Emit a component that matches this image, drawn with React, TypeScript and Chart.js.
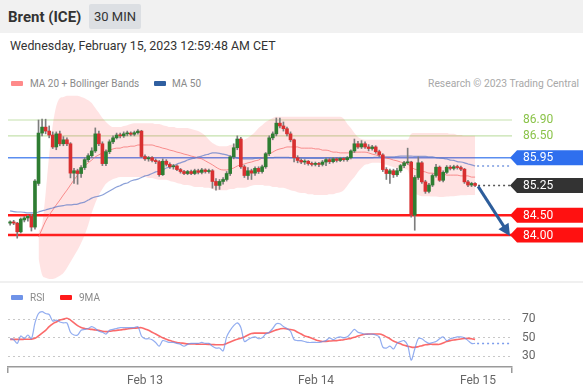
import React, { useEffect, useRef } from 'react';
import { Chart, registerables } from 'chart.js';
Chart.register(...registerables);

const FONT = "Roboto, 'Liberation Sans', Arial, sans-serif";

// ---- candles (30 min) ----
const opens = [
  84.30,84.33,84.30,84.08,84.38,84.43,84.47,84.20,85.30,86.57,
  86.72,86.62,86.52,86.22,86.55,86.30,86.40,86.30,85.56,85.62,
  85.55,85.70,85.90,86.00,86.12,86.55,86.30,85.80,86.10,86.35,
  86.45,86.52,86.50,86.55,86.57,86.54,86.58,86.62,85.98,85.92,
  85.95,85.88,85.85,85.52,85.86,85.78,85.72,85.74,85.65,85.60,
  85.55,85.60,85.55,85.62,85.58,85.64,85.60,85.62,85.35,85.25,
  85.35,85.40,85.55,85.97,86.20,86.42,85.72,85.50,85.62,85.56,
  85.68,85.60,85.72,86.05,86.45,86.55,86.82,86.75,86.68,86.55,
  86.40,85.95,85.88,85.84,85.86,85.80,85.78,85.80,85.78,85.84,
  85.90,85.85,85.92,85.88,85.93,85.90,85.95,86.12,86.30,86.22,
  86.30,86.22,86.18,86.22,86.10,86.02,85.65,85.55,85.62,85.52,
  85.62,85.75,85.82,85.84,84.50,85.45,85.82,85.34,85.10,85.26,
  85.50,85.71,85.38,85.58,85.71,85.68,85.72,85.70,85.66,85.34,
  85.26,85.30,
];
const highs = [
  84.36,84.37,84.32,84.43,84.47,84.50,84.52,85.40,86.90,86.92,
  86.92,86.75,86.60,86.60,86.62,86.48,86.45,86.33,85.68,85.66,
  85.75,85.95,86.05,86.20,86.70,86.62,86.35,86.15,86.40,86.50,
  86.57,86.57,86.60,86.62,86.60,86.62,86.66,86.64,86.02,85.98,
  85.98,85.92,85.88,85.92,85.90,85.82,85.78,85.77,85.68,85.63,
  85.63,85.64,85.66,85.66,85.68,85.67,85.66,85.65,85.42,85.40,
  85.45,85.60,86.00,86.30,86.50,86.46,85.76,85.70,85.66,85.72,
  85.72,85.76,86.08,86.50,86.60,86.95,86.95,86.85,86.72,86.60,
  86.42,86.00,85.92,85.90,85.88,85.84,85.84,85.83,85.88,85.94,
  85.94,85.96,85.95,85.96,85.96,85.98,86.15,86.42,86.36,86.38,
  86.35,86.28,86.26,86.25,86.14,86.05,85.70,85.66,85.66,85.68,
  85.78,85.86,86.19,85.86,85.50,85.97,85.85,85.38,85.30,85.54,
  85.78,85.74,85.62,85.75,85.75,85.76,85.76,85.74,85.68,85.38,
  85.33,85.32,
];
const lows = [
  84.25,84.26,83.92,84.05,84.33,84.35,84.10,84.15,85.25,86.50,
  86.55,86.45,86.18,86.15,86.25,86.25,86.25,85.44,85.30,85.28,
  85.45,85.65,85.85,85.95,86.08,86.25,85.75,85.75,86.05,86.30,
  86.42,86.45,86.46,86.50,86.50,86.50,86.54,85.95,85.88,85.86,
  85.84,85.80,85.48,85.50,85.74,85.68,85.66,85.62,85.56,85.52,
  85.52,85.52,85.52,85.54,85.54,85.56,85.56,85.18,85.13,85.15,
  85.28,85.36,85.50,85.92,86.15,85.68,85.45,85.40,85.40,85.50,
  85.55,85.56,85.68,86.00,86.40,86.50,86.70,86.62,86.50,86.35,
  85.84,85.82,85.80,85.78,85.76,85.74,85.74,85.72,85.74,85.75,
  85.80,85.82,85.84,85.85,85.86,85.86,85.92,86.08,86.18,86.18,
  86.18,86.12,86.14,86.06,85.98,85.60,85.40,85.30,85.45,85.48,
  85.58,85.70,85.78,84.45,84.12,85.40,85.30,85.05,85.06,85.22,
  85.46,85.35,85.34,85.55,85.64,85.64,85.66,85.62,85.30,85.22,
  85.22,85.22,
];
const closes = [
  84.33,84.30,84.08,84.40,84.43,84.47,84.20,85.36,86.57,86.72,
  86.62,86.52,86.22,86.55,86.30,86.40,86.30,85.56,85.62,85.55,
  85.70,85.90,86.00,86.12,86.55,86.30,85.80,86.10,86.35,86.45,
  86.52,86.50,86.55,86.57,86.54,86.58,86.62,85.98,85.92,85.95,
  85.88,85.85,85.52,85.86,85.78,85.72,85.74,85.65,85.60,85.55,
  85.60,85.55,85.62,85.58,85.64,85.60,85.62,85.35,85.25,85.35,
  85.40,85.55,85.97,86.20,86.42,85.72,85.50,85.62,85.56,85.68,
  85.60,85.72,86.05,86.45,86.55,86.82,86.75,86.68,86.55,86.40,
  85.95,85.88,85.84,85.86,85.80,85.78,85.80,85.78,85.84,85.90,
  85.85,85.92,85.88,85.93,85.90,85.95,86.12,86.30,86.22,86.30,
  86.22,86.18,86.22,86.10,86.02,85.65,85.55,85.62,85.52,85.62,
  85.75,85.82,85.84,84.50,85.45,85.82,85.34,85.10,85.26,85.50,
  85.71,85.38,85.58,85.71,85.68,85.72,85.70,85.66,85.34,85.26,
  85.30,85.25,
];

// ---- indicators ----
const N8 = [null, null, null, null, null, null, null, null];
const upperBand = [
  ...N8, 84.10, 84.25,
  85.05,86.02,86.77,87.25,87.45,87.48,87.51,87.51,87.51,87.51,
  87.48,87.45,87.40,87.33,87.20,87.08,86.95,86.85,86.77,86.72,
  86.72,86.72,86.75,86.77,86.80,86.82,86.82,86.82,86.82,86.82,
  86.82,86.80,86.80,86.77,86.75,86.72,86.72,86.70,86.70,86.70,
  86.70,86.67,86.65,86.62,86.57,86.50,86.40,86.32,86.27,86.24,
  86.24,86.24,86.27,86.29,86.32,86.37,86.40,86.45,86.52,86.60,
  86.70,86.77,86.85,86.90,86.95,86.98,86.98,86.98,86.98,86.98,
  86.98,86.98,86.98,86.98,86.98,86.98,86.98,86.98,86.98,86.98,
  86.98,86.98,86.98,86.98,86.93,86.80,86.70,86.57,86.47,86.42,
  86.40,86.40,86.40,86.40,86.40,86.40,86.40,86.40,86.40,86.40,
  86.40,86.40,86.40,86.55,86.57,86.57,86.57,86.57,86.57,86.57,
  86.57,86.57,86.57,86.57,86.55,86.55,86.52,86.52,86.50,86.50,
  86.50,86.50,
];
const lowerBand = [
  ...N8, 83.40, 83.00,
  82.92,82.89,82.89,82.92,82.97,83.04,83.17,83.32,83.47,83.62,
  83.80,84.00,84.25,84.56,84.81,85.01,85.16,85.29,85.36,85.41,
  85.44,85.46,85.46,85.46,85.46,85.46,85.46,85.46,85.46,85.44,
  85.44,85.41,85.39,85.39,85.39,85.36,85.34,85.31,85.29,85.26,
  85.26,85.24,85.21,85.21,85.21,85.19,85.19,85.16,85.13,85.13,
  85.13,85.13,85.16,85.16,85.19,85.19,85.19,85.21,85.24,85.26,
  85.26,85.26,85.24,85.24,85.21,85.21,85.19,85.19,85.16,85.13,
  85.11,85.08,85.06,85.06,85.03,85.03,85.01,85.01,85.01,85.01,
  85.03,85.03,85.06,85.08,85.13,85.24,85.36,85.46,85.59,85.69,
  85.77,85.79,85.82,85.82,85.82,85.79,85.77,85.74,85.71,85.69,
  85.69,85.66,85.64,85.26,85.06,85.01,84.98,84.98,84.98,84.97,
  84.97,84.96,84.96,84.97,84.98,84.98,84.99,85.00,85.00,85.01,
  85.01,85.01,
];
const ma20 = [
  ...N8, 83.95, 84.15,
  84.35,84.50,84.63,84.76,84.88,85.01,85.13,85.26,85.39,85.51,
  85.64,85.74,85.82,85.89,85.97,86.02,86.07,86.12,86.14,86.17,
  86.19,86.19,86.22,86.22,86.24,86.24,86.27,86.27,86.27,86.27,
  86.27,86.24,86.22,86.19,86.17,86.14,86.12,86.09,86.07,86.04,
  86.02,85.99,85.97,85.94,85.92,85.87,85.82,85.77,85.71,85.66,
  85.64,85.64,85.66,85.69,85.74,85.77,85.79,85.82,85.84,85.87,
  85.89,85.94,85.99,86.04,86.09,86.14,86.17,86.19,86.22,86.22,
  86.22,86.22,86.19,86.19,86.19,86.19,86.17,86.17,86.14,86.14,
  86.12,86.09,86.09,86.07,86.07,86.07,86.07,86.09,86.09,86.09,
  86.09,86.07,86.04,86.02,85.99,85.97,85.94,85.92,85.89,85.87,
  85.84,85.82,85.79,85.71,85.66,85.64,85.61,85.59,85.56,85.56,
  85.54,85.54,85.54,85.51,85.51,85.51,85.51,85.49,85.49,85.49,
  85.46,85.46,
];
const ma50 = [
  84.61,84.59,84.58,84.58,84.57,84.56,84.56,84.56,84.58,84.61,
  84.63,84.66,84.68,84.71,84.73,84.74,84.76,84.76,84.77,84.78,
  84.81,84.83,84.88,84.93,84.96,84.98,85.01,85.06,85.11,85.16,
  85.21,85.24,85.29,85.31,85.36,85.39,85.41,85.45,85.49,85.51,
  85.55,85.59,85.61,85.64,85.69,85.71,85.74,85.79,85.82,85.85,
  85.89,85.92,85.94,85.97,85.99,86.02,86.04,86.07,86.07,86.06,
  86.04,86.02,85.99,85.97,85.94,85.93,85.92,85.92,85.92,85.93,
  85.94,85.94,85.94,85.95,85.95,85.96,85.96,85.96,85.96,85.95,
  85.95,85.94,85.94,85.93,85.93,85.93,85.93,85.93,85.93,85.94,
  85.94,85.94,85.94,85.94,85.94,85.94,85.95,85.95,85.95,85.95,
  85.95,85.95,85.95,85.96,85.96,85.97,85.97,85.97,85.97,85.98,
  85.99,85.99,85.99,85.99,85.98,85.98,85.98,85.98,85.97,85.97,
  85.95,85.94,85.93,85.92,85.89,85.88,85.85,85.84,85.82,85.79,
  85.77,85.74,
];
const rsi = [
  49,48,44,52,49,53,49,66,76,78,
  76,75,68,69,67,66,66,56,53,53,
  58,59,60,62,60,57,56,54,58,59,
  60,61,61,61,61,61,62,52,49,49,
  48,45,41,47,46,45,45,44,43,41,
  43,44,44,44,45,44,44,41,39,39,
  36,51,58,63,66,61,46,48,50,51,
  49,50,54,56,60,65,65,62,60,57,
  48,47,47,46,45,45,45,45,46,47,
  50,48,50,51,50,51,55,59,56,55,
  54,54,54,53,51,40,39,41,38,44,
  46,47,42,26,38,49,49,46,44,45,
  46,49,51,47,49,50,51,51,50,47,
  44,44,
];
const rsiMa = [
  48.3,48.3,48.3,48.3,48.4,48.5,48.5,49.5,52,55,
  58,62,65,67,69,70,71,69,66,63,
  61,60,59.5,59,58.4,58,57,56.6,57,57.5,
  58,58.4,59,59.5,60,60.3,60.6,60.8,59.5,58,
  56,54,52,50,48.5,47,46,45,44.5,44,
  43.5,43.4,43.3,43.2,43.1,43.1,43,42.8,42.6,42.6,
  42.6,44,45.5,47,48.5,49.4,51,53,54.5,55,
  55,55,55,55.5,57,58.5,59.5,60,59.5,58.8,
  58,56,54,52,51,49.5,48,46.8,46,46.2,
  46.5,46.8,47,47.5,48,48.8,49.4,50.5,52,53,
  53.8,54,54,54,54,53,51,49,46.5,45,
  43.5,42,41,40,39.8,40.5,41.5,42.5,43,43,
  43,43,44.5,46,47,47.7,48.2,48.7,49.2,49.4,
  49,48.3,
];

// ---- axes / levels ----
const xTickPositions = [38, 86.2, 131.8];
const xTickLabels = ['Feb 13', 'Feb 14', 'Feb 15'];
const rsiTickValues = [30, 50, 70];
const levelValues = [86.9, 86.5, 85.95, 85.25, 84.5, 84.0];
const levelLabels = ['86.90', '86.50', '85.95', '85.25', '84.50', '84.00'];
const levelLineColors = ['#c5e2ad', '#c5e2ad', '#5b8ef0', '', '#ff1a1a', '#ff1a1a'];
const levelLineWidths = [1.2, 1.2, 1.5, 0, 2.5, 2.5];
const levelBoxColors = ['', '', '#2f6fee', '#333333', '#ff1111', '#ff1111'];
const levelTextColors = ['#8bc34a', '#8bc34a', '#ffffff', '#ffffff', '#ffffff', '#ffffff'];
const arrowTarget = 84.0;

const X_MIN = -0.6;
const X_MAX = 141.4;

const mainOverlay = {
  id: 'mainOverlay',
  beforeDatasetsDraw(chart: any) {
    const { ctx, chartArea: ca, scales } = chart;
    const y = scales.y;
    levelValues.forEach((v, k) => {
      if (!levelLineColors[k]) return;
      const py = y.getPixelForValue(v);
      ctx.save();
      ctx.strokeStyle = levelLineColors[k];
      ctx.lineWidth = levelLineWidths[k];
      ctx.beginPath();
      ctx.moveTo(ca.left, py);
      ctx.lineTo(ca.right, py);
      ctx.stroke();
      ctx.restore();
    });
  },
  afterDatasetsDraw(chart: any) {
    const { ctx, chartArea: ca, scales } = chart;
    const x = scales.x;
    const y = scales.y;
    const last = closes.length - 1;
    const lx = x.getPixelForValue(last);
    ctx.save();
    ctx.setLineDash([2, 3]);
    ctx.lineWidth = 1.5;
    ctx.strokeStyle = '#7b9be0';
    const my = y.getPixelForValue(ma50[last]);
    ctx.beginPath(); ctx.moveTo(lx + 2, my); ctx.lineTo(ca.right, my); ctx.stroke();
    ctx.strokeStyle = '#555555';
    const cy = y.getPixelForValue(closes[last]);
    ctx.beginPath(); ctx.moveTo(lx + 3, cy); ctx.lineTo(ca.right, cy); ctx.stroke();
    ctx.restore();

    // arrow
    const ax0 = lx + 3, ay0 = cy + 1;
    const ax1 = ca.right - 2, ay1 = y.getPixelForValue(arrowTarget) + 1;
    const ang = Math.atan2(ay1 - ay0, ax1 - ax0);
    const head = 12, hw = 6;
    ctx.save();
    ctx.strokeStyle = '#2d5d9b';
    ctx.fillStyle = '#2d5d9b';
    ctx.lineWidth = 3;
    ctx.beginPath();
    ctx.moveTo(ax0, ay0);
    ctx.lineTo(ax1 - head * 0.8 * Math.cos(ang), ay1 - head * 0.8 * Math.sin(ang));
    ctx.stroke();
    const bx = ax1 - head * Math.cos(ang), by = ay1 - head * Math.sin(ang);
    ctx.beginPath();
    ctx.moveTo(ax1, ay1);
    ctx.lineTo(bx + hw * Math.sin(ang), by - hw * Math.cos(ang));
    ctx.lineTo(bx - hw * Math.sin(ang), by + hw * Math.cos(ang));
    ctx.closePath();
    ctx.fill();
    ctx.restore();
  },
  afterDraw(chart: any) {
    const { ctx, chartArea: ca, scales } = chart;
    const y = scales.y;
    const W = chart.width;
    levelValues.forEach((v, k) => {
      const py = y.getPixelForValue(v);
      ctx.save();
      if (levelBoxColors[k]) {
        const h = 15;
        ctx.fillStyle = levelBoxColors[k];
        ctx.beginPath();
        ctx.moveTo(ca.right - 2, py);
        ctx.lineTo(ca.right + 5, py - h / 2);
        ctx.lineTo(W, py - h / 2);
        ctx.lineTo(W, py + h / 2);
        ctx.lineTo(ca.right + 5, py + h / 2);
        ctx.closePath();
        ctx.fill();
      }
      ctx.fillStyle = levelTextColors[k];
      ctx.font = '12px ' + FONT;
      ctx.textBaseline = 'middle';
      ctx.textAlign = 'left';
      ctx.fillText(levelLabels[k], ca.right + 11, py + 0.5);
      ctx.restore();
    });
  },
};

const rsiOverlay = {
  id: 'rsiOverlay',
  afterDatasetsDraw(chart: any) {
    const { ctx, chartArea: ca, scales } = chart;
    const last = rsi.length - 1;
    const px = scales.x.getPixelForValue(last);
    const py = scales.y.getPixelForValue(rsi[last]);
    ctx.save();
    ctx.setLineDash([2, 3]);
    ctx.strokeStyle = 'rgba(110,145,235,0.9)';
    ctx.lineWidth = 1.5;
    ctx.beginPath(); ctx.moveTo(px + 2, py); ctx.lineTo(ca.right, py); ctx.stroke();
    ctx.restore();
  },
};

export default function App() {
  const mainRef = useRef<HTMLCanvasElement>(null);
  const rsiRef = useRef<HTMLCanvasElement>(null);

  useEffect(() => {
    Chart.defaults.font.family = FONT;
    const labels = closes.map((_, i) => i);
    const main = new Chart(mainRef.current as HTMLCanvasElement, {
      type: 'bar',
      data: {
        labels,
        datasets: [
          {
            type: 'bar', label: 'wick',
            data: lows.map((l, i) => [l, highs[i]]) as any,
            backgroundColor: '#7d7d7d', barThickness: 1, grouped: false, order: 2,
          } as any,
          {
            type: 'bar', label: 'body',
            data: opens.map((o, i) => [o, closes[i]]) as any,
            backgroundColor: opens.map((o, i) => (closes[i] >= o ? '#2e7d32' : '#d83030')),
            barThickness: 3, grouped: false, minBarLength: 1, order: 1,
          } as any,
          {
            type: 'line', label: 'upper', data: upperBand as any,
            borderColor: 'rgba(0,0,0,0)', borderWidth: 0, pointRadius: 0,
            fill: '+1', backgroundColor: 'rgba(255,70,70,0.15)',
            cubicInterpolationMode: 'monotone', order: 10,
          } as any,
          {
            type: 'line', label: 'lower', data: lowerBand as any,
            borderColor: 'rgba(0,0,0,0)', borderWidth: 0, pointRadius: 0,
            fill: false, cubicInterpolationMode: 'monotone', order: 11,
          } as any,
          {
            type: 'line', label: 'MA 20', data: ma20 as any,
            borderColor: 'rgba(245,110,110,0.75)', borderWidth: 1, pointRadius: 0,
            fill: false, cubicInterpolationMode: 'monotone', order: 5,
          } as any,
          {
            type: 'line', label: 'MA 50', data: ma50 as any,
            borderColor: 'rgba(90,120,200,0.7)', borderWidth: 1.2, pointRadius: 0,
            fill: false, cubicInterpolationMode: 'monotone', order: 4,
          } as any,
        ],
      },
      options: {
        responsive: false,
        animation: false,
        events: [],
        devicePixelRatio: 1,
        layout: { padding: { left: 8, right: 71, top: 0, bottom: 0 } },
        plugins: { legend: { display: false }, tooltip: { enabled: false } },
        scales: {
          x: { type: 'linear', min: X_MIN, max: X_MAX, offset: false, display: false },
          y: { type: 'linear', min: 82.815, max: 87.656, display: false },
        },
      } as any,
      plugins: [mainOverlay],
    });

    const rsiChart = new Chart(rsiRef.current as HTMLCanvasElement, {
      type: 'line',
      data: {
        labels,
        datasets: [
          {
            label: 'RSI', data: rsi, borderColor: 'rgba(110,145,235,0.75)',
            borderWidth: 1.2, pointRadius: 0, tension: 0.3, fill: false,
          },
          {
            label: '9MA', data: rsiMa, borderColor: 'rgba(250,80,80,0.85)',
            borderWidth: 1.6, pointRadius: 0, tension: 0.4, fill: false,
          },
        ],
      },
      options: {
        responsive: false,
        animation: false,
        events: [],
        devicePixelRatio: 1,
        layout: { padding: { left: 8, top: 17, right: 0, bottom: 0 } },
        plugins: { legend: { display: false }, tooltip: { enabled: false } },
        scales: {
          x: {
            type: 'linear', min: X_MIN, max: X_MAX, offset: false,
            afterBuildTicks: (s: any) => {
              s.ticks = [{ value: X_MIN }, ...xTickPositions.map((v) => ({ value: v })), { value: X_MAX }];
            },
            afterFit: (s: any) => { s.height = 25; },
            ticks: {
              autoSkip: false, maxRotation: 0, minRotation: 0, padding: 1,
              color: '#666', font: { size: 12 },
              callback: (v: any) => {
                const k = xTickPositions.indexOf(v);
                return k >= 0 ? xTickLabels[k] : '';
              },
            },
            grid: {
              display: true, drawOnChartArea: false, drawTicks: true, tickLength: 6,
              lineWidth: 1.5,
              color: (c: any) => (c.index === 0 || c.index === xTickPositions.length + 1 ? '#9a9a9a' : 'rgba(0,0,0,0)'),
            },
            border: { display: true, color: '#9a9a9a', width: 1.5 },
          },
          y: {
            type: 'linear', position: 'right', min: 18.7, max: 90.3,
            afterBuildTicks: (s: any) => { s.ticks = rsiTickValues.map((v) => ({ value: v })); },
            afterFit: (s: any) => { s.width = 71; },
            ticks: { padding: 10, color: '#666', font: { size: 12 } },
            grid: { color: '#c8c8c8', drawTicks: false, lineWidth: 1 },
            border: { display: false, dash: [2, 3] },
          },
        },
      } as any,
      plugins: [rsiOverlay],
    });

    return () => {
      main.destroy();
      rsiChart.destroy();
    };
  }, []);

  const legendText: React.CSSProperties = { position: 'absolute', fontSize: 10, lineHeight: '13px', color: '#8a8a8a', whiteSpace: 'nowrap' };
  const swatch = (left: number, top: number, color: string): React.CSSProperties => ({
    position: 'absolute', left, top, width: 12, height: 5, background: color, borderRadius: 1,
  });

  return (
    <div style={{ position: 'fixed', left: 0, top: 0, width: 583, height: 392, background: '#fff', overflow: 'hidden', fontFamily: FONT, color: '#333' }}>
      <div style={{ position: 'absolute', left: 0, top: 0, width: 583, height: 33, background: '#f1f1f1' }} />
      <div style={{ position: 'absolute', left: 8, top: 8, fontSize: 15, lineHeight: '18px', fontWeight: 700, color: '#333' }}>Brent (ICE)</div>
      <div style={{ position: 'absolute', left: 89, top: 4, width: 52, height: 25, background: '#dcdfe3', borderRadius: 2, fontSize: 13, lineHeight: '25px', textAlign: 'center', color: '#333' }}>30 MIN</div>
      <div style={{ position: 'absolute', left: 10, top: 38, fontSize: 12.4, lineHeight: '16px', color: '#333', whiteSpace: 'nowrap' }}>Wednesday, February 15, 2023 12:59:48 AM CET</div>

      <div style={swatch(11, 81, '#ff8a8a')} />
      <div style={{ ...legendText, left: 30, top: 77 }}>MA 20 + Bollinger Bands</div>
      <div style={swatch(154, 81, '#2f5fa0')} />
      <div style={{ ...legendText, left: 172, top: 77 }}>MA 50</div>
      <div style={{ ...legendText, right: 4, top: 77, color: '#a8a8a8', fontSize: 10.3 }}>Research © 2023 Trading Central</div>

      <canvas ref={mainRef} width={583} height={192} style={{ position: 'absolute', left: 0, top: 90, width: 583, height: 192 }} />
      <div style={{ position: 'absolute', left: 0, top: 281, width: 583, height: 2, background: '#f0f0f0' }} />
      <canvas ref={rsiRef} width={583} height={109} style={{ position: 'absolute', left: 0, top: 283, width: 583, height: 109 }} />

      <div style={swatch(11, 295, '#6f93e8')} />
      <div style={{ ...legendText, left: 30, top: 291 }}>RSI</div>
      <div style={swatch(60, 295, '#ff1a1a')} />
      <div style={{ ...legendText, left: 79, top: 291 }}>9MA</div>
    </div>
  );
}
